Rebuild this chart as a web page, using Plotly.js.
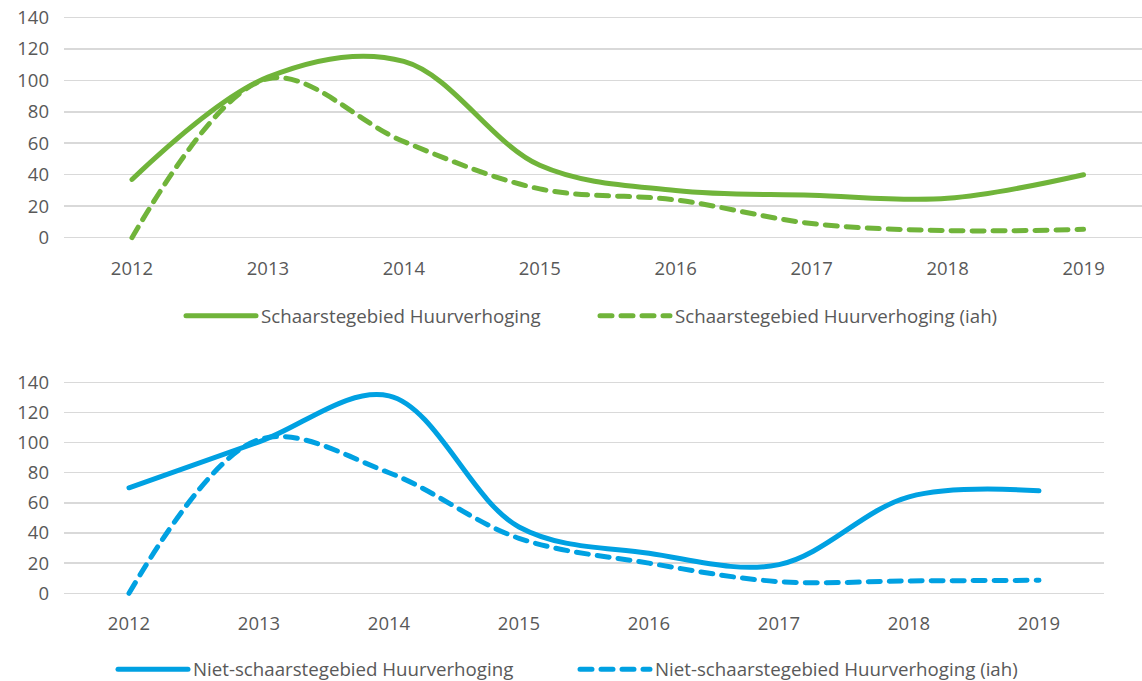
<!DOCTYPE html>
<html>
<head>
<meta charset="utf-8">
<script src="https://cdn.plot.ly/plotly-3.0.1.min.js"></script>
<style>
html,body{margin:0;padding:0;background:#fff;}
#chart{width:1142px;height:681px;}
.js-line{stroke-linecap:round;}
</style>
</head>
<body>
<div id="chart"></div>
<script>
const years = ['2012','2013','2014','2015','2016','2017','2018','2019'];
const schaarsteHuur = [37, 102, 112, 46, 30, 27, 25, 40];
const schaarsteHuurIah = [0, 101, 61, 31, 24, 9, 4.5, 5.3];
const nietSchaarsteHuur = [70, 100.5, 131, 44, 26.5, 19, 64, 68];
const nietSchaarsteHuurIah = [0, 102, 80, 36.5, 20, 7.7, 8.2, 8.6];
const yTicks = [0, 20, 40, 60, 80, 100, 120, 140];

const green = '#70B43A';
const blue = '#00A1E2';
const txt = '#595959';
const fnt = 'Open Sans, sans-serif';

const traces = [
  {x: years, y: schaarsteHuur, name: 'Schaarstegebied Huurverhoging', type: 'scatter', mode: 'lines',
   line: {color: green, width: 5, shape: 'spline', smoothing: 1}, xaxis: 'x', yaxis: 'y', legend: 'legend'},
  {x: years, y: schaarsteHuurIah, name: 'Schaarstegebied Huurverhoging (iah)', type: 'scatter', mode: 'lines',
   line: {color: green, width: 5, dash: '12px,9px', shape: 'spline', smoothing: 1}, xaxis: 'x', yaxis: 'y', legend: 'legend'},
  {x: years, y: nietSchaarsteHuur, name: 'Niet-schaarstegebied Huurverhoging', type: 'scatter', mode: 'lines',
   line: {color: blue, width: 5, shape: 'spline', smoothing: 1}, xaxis: 'x2', yaxis: 'y2', legend: 'legend2'},
  {x: years, y: nietSchaarsteHuurIah, name: 'Niet-schaarstegebied Huurverhoging (iah)', type: 'scatter', mode: 'lines',
   line: {color: blue, width: 5, dash: '12px,9px', shape: 'spline', smoothing: 1}, xaxis: 'x2', yaxis: 'y2', legend: 'legend2'}
];

const yAxisCommon = {
  range: [-4, 144], tickvals: yTicks, ticktext: yTicks.map(String),
  showgrid: true, gridcolor: '#D9D9D9', gridwidth: 1.5, zeroline: false, showline: false,
  ticks: '', ticklabelstandoff: 14, tickfont: {family: fnt, size: 18.5, color: txt}, fixedrange: true
};
const xAxisCommon = {
  type: 'category', showgrid: false, zeroline: false, showline: false, ticks: '',
  ticklabelstandoff: 11, tickfont: {family: fnt, size: 18.5, color: txt}, fixedrange: true
};
const legendCommon = {
  orientation: 'h', xanchor: 'left', yanchor: 'middle', font: {family: fnt, size: 18.7, color: txt},
  bgcolor: 'rgba(0,0,0,0)', itemwidth: 70, entrywidthmode: 'pixels', tracegroupgap: 0
};

const layout = {
  width: 1142, height: 681,
  margin: {l: 0, r: 0, t: 0, b: 0, autoexpand: false},
  paper_bgcolor: '#fff', plot_bgcolor: '#fff',
  showlegend: true,
  xaxis: Object.assign({}, xAxisCommon, {domain: [64/1142, 1], range: [-0.5, 7.43], anchor: 'y'}),
  yaxis: Object.assign({}, yAxisCommon, {domain: [1 - 244/681, 1 - 11/681], anchor: 'x'}),
  xaxis2: Object.assign({}, xAxisCommon, {domain: [64/1142, 1104/1142], range: [-0.5, 7.5], anchor: 'y2'}),
  yaxis2: Object.assign({}, yAxisCommon, {domain: [1 - 599.3/681, 1 - 376.3/681], anchor: 'x2'}),
  legend: Object.assign({}, legendCommon, {x: 181/1142, y: 1 - 316/681, entrywidth: 329}),
  legend2: Object.assign({}, legendCommon, {x: 113/1142, y: 1 - 669.5/681, entrywidth: 377})
};

Plotly.newPlot('chart', traces, layout, {staticPlot: true, displayModeBar: false});
</script>
</body>
</html>
